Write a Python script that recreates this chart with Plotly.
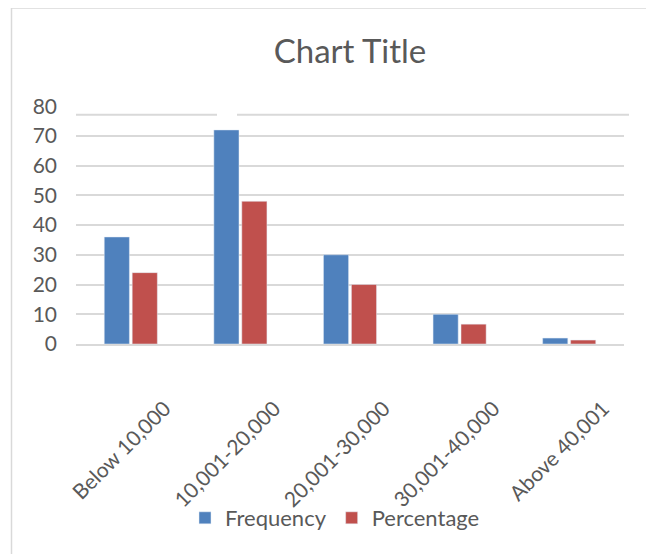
import plotly.graph_objects as go

categories = ["Below 10,000", "10,001-20,000", "20,001-30,000", "30,001-40,000", "Above 40,001"]
frequency = [36, 72, 30, 10, 2]
percentage = [24, 48, 20, 6.67, 1.33]
y_ticks = [0, 10, 20, 30, 40, 50, 60, 70, 80]

W, H = 654, 554
OFF = 8  # page body margin offset
ML, MT = 76 - OFF, 106 - OFF
MR, MB = W - (624 - OFF), H - (344 - OFF)
PW, PH = W - ML - MR, H - MT - MB

def px_x(x):
    return (x - OFF - ML) / PW

def px_y(y):
    return (H - MB - (y - OFF)) / PH

TEXT = "#595959"
GRID = "#D9D9D9"
FONT = "Lato"

fig = go.Figure()
fig.add_trace(go.Bar(name="Frequency", x=categories, y=frequency, marker_color="#4F81BD"))
fig.add_trace(go.Bar(name="Percentage", x=categories, y=percentage, marker_color="#C0504D"))

shapes = [
    dict(type="rect", xref="paper", yref="paper", x0=px_x(11.5), x1=px_x(648.5), y0=px_y(565), y1=px_y(8),
         line=dict(color=GRID, width=1.5), fillcolor="rgba(0,0,0,0)", layer="below"),
    dict(type="line", xref="paper", yref="paper", x0=px_x(76), x1=px_x(217), y0=px_y(114.7), y1=px_y(114.7),
         line=dict(color=GRID, width=2), layer="below"),
    dict(type="line", xref="paper", yref="paper", x0=px_x(237), x1=px_x(629), y0=px_y(114.7), y1=px_y(114.7),
         line=dict(color=GRID, width=2), layer="below"),
]

fig.update_layout(
    width=W, height=H,
    margin=dict(l=ML, r=MR, t=MT, b=MB, autoexpand=False),
    paper_bgcolor="white", plot_bgcolor="white",
    font=dict(family=FONT, color=TEXT, size=21),
    title=dict(text="Chart Title", x=0.5, xanchor="center", xref="paper", y=1 - (51 - OFF) / H, yanchor="middle",
               font=dict(family=FONT, size=33, color=TEXT)),
    barmode="group", bargap=0.49, bargroupgap=0.1,
    showlegend=True,
    legend=dict(orientation="h", x=px_x(335), xanchor="center", y=px_y(518), yanchor="middle",
                bgcolor="rgba(0,0,0,0)", itemwidth=30,
                font=dict(family=FONT, size=22, color=TEXT), traceorder="normal"),
    shapes=shapes,
)
fig.update_xaxes(
    type="category", tickangle=-45, showgrid=False, showline=True, linecolor=GRID, linewidth=2,
    ticks="", tickfont=dict(family=FONT, size=21, color=TEXT),
    ticklabelshift=34, ticklabelstandoff=42,
)
fig.update_yaxes(
    range=[0, 80.05], tickvals=y_ticks, showgrid=True, gridcolor=GRID, gridwidth=2,
    zeroline=False, showline=False, ticks="", tickfont=dict(family=FONT, size=21, color=TEXT),
    ticklabelstandoff=18,
)

fig.write_html("out.html")
